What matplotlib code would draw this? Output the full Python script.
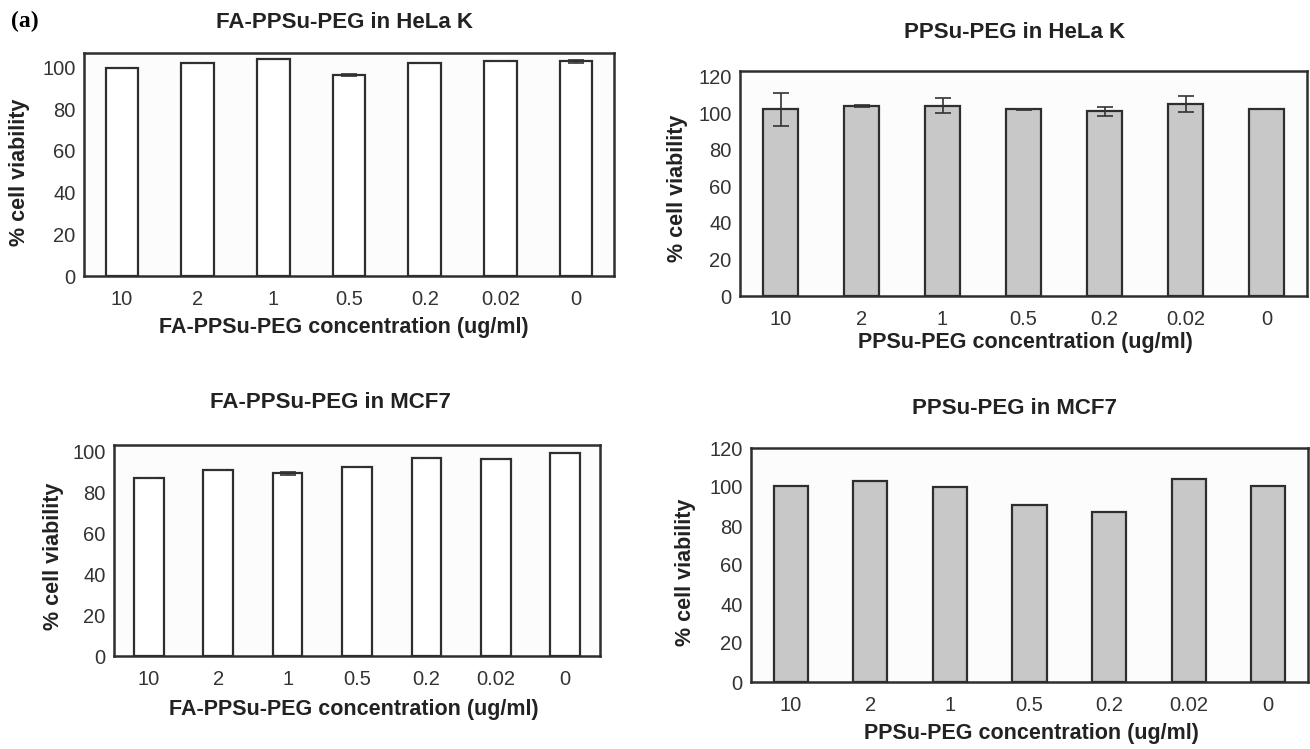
import numpy as np
import matplotlib.pyplot as plt

plt.rcParams['font.family'] = ['Liberation Sans', 'DejaVu Sans']

# datos
concentraciones = ["10", "2", "1", "0.5", "0.2", "0.02", "0"]

fa_hela = [100, 102, 104, 96.5, 102.2, 103, 103]
fa_hela_err = [0, 0, 0, 0.6, 0, 0, 0.6]

ppsu_hela = [102, 104, 104, 102, 101, 105, 102.3]
ppsu_hela_err = [9, 0.5, 4, 0.3, 2.5, 4.5, 0]

fa_mcf7 = [87.3, 91, 89.4, 92.4, 96.8, 96.3, 99.5]
fa_mcf7_err = [0, 0, 0.6, 0, 0, 0, 0]

ppsu_mcf7 = [100.6, 102.9, 99.9, 90.9, 87.3, 104, 100.6]

W, H = 1310, 749
fig = plt.figure(figsize=(W / 100, H / 100), dpi=100)
fig.patch.set_facecolor('white')
EDGE = '#2e2e2e'


def px(x, y):
    return x / W, 1 - y / H


def panel(left, right, top, bottom, ymax, yticks, values, errors, color):
    ax = fig.add_axes([left / W, 1 - bottom / H, (right - left) / W, (bottom - top) / H])
    x = np.arange(len(values))
    ax.bar(x, values, width=0.43, color=color, edgecolor=EDGE, linewidth=1.6, zorder=2)
    if errors is not None:
        ax.errorbar(x, values, yerr=errors, fmt='none', ecolor='#333333',
                    elinewidth=1.2, capsize=6, capthick=1.2, zorder=3)
    ax.set_xlim(-0.5, len(values) - 0.5)
    ax.set_ylim(0, ymax)
    ax.set_yticks(yticks)
    ax.set_xticks(x)
    ax.set_xticklabels(concentraciones)
    ax.tick_params(axis='x', length=0, pad=10, labelsize=14.5, labelcolor='#333333')
    ax.tick_params(axis='y', length=0, pad=6, labelsize=14.5, labelcolor='#333333')
    ax.set_facecolor('#fcfcfc')
    for s in ax.spines.values():
        s.set_color(EDGE)
        s.set_linewidth(1.8)
    return ax


panel(84, 614, 53, 276, 107, range(0, 101, 20), fa_hela, fa_hela_err, 'white')
panel(740, 1307, 71, 296, 123, range(0, 121, 20), ppsu_hela, ppsu_hela_err, '#c8c8c8')
panel(114, 600, 445, 656, 103.3, range(0, 101, 20), fa_mcf7, fa_mcf7_err, 'white')
panel(751, 1308, 448, 682, 120, range(0, 121, 20), ppsu_mcf7, None, '#c8c8c8')

# textos
fig.text(*px(25, 21), "(a)", family='Liberation Serif', fontweight='bold',
         fontsize=17, ha='center', va='center')

titulos = [("FA-PPSu-PEG in HeLa K", 344, 22), ("PPSu-PEG in HeLa K", 1015, 32),
           ("FA-PPSu-PEG in MCF7", 330, 403), ("PPSu-PEG in MCF7", 1014, 408)]
for t, x0, y0 in titulos:
    fig.text(*px(x0, y0), t, fontweight='bold', fontsize=16, ha='center', va='center',
             color='#222222')

xlabels = [("FA-PPSu-PEG concentration (ug/ml)", 344, 328),
           ("PPSu-PEG concentration (ug/ml)", 1025, 343),
           ("FA-PPSu-PEG concentration (ug/ml)", 354, 710),
           ("PPSu-PEG concentration (ug/ml)", 1031, 733)]
for t, x0, y0 in xlabels:
    fig.text(*px(x0, y0), t, fontweight='bold', fontsize=15.5, ha='center', va='center',
             color='#222222')

for x0, y0 in [(20, 172), (677, 188), (54, 556), (686, 572)]:
    fig.text(*px(x0, y0), "% cell viability", fontweight='bold', fontsize=15.5,
             ha='center', va='center', rotation=90, color='#222222')

fig.savefig("out.png", dpi=100)
